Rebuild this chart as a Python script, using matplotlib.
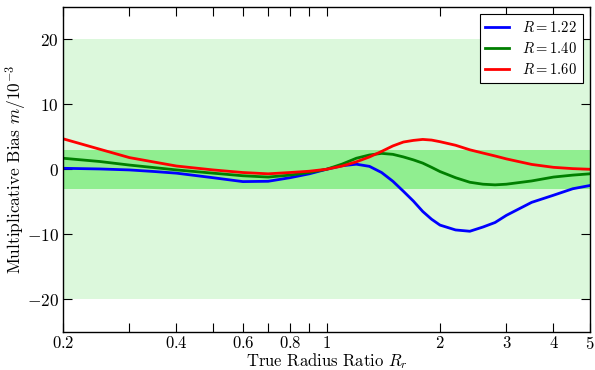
import matplotlib
matplotlib.use("Agg")
import matplotlib.pyplot as plt
from matplotlib.ticker import FixedLocator, FixedFormatter, NullLocator

plt.rcParams["font.family"] = "serif"
plt.rcParams["font.serif"] = ["cmr10", "DejaVu Serif"]
plt.rcParams["mathtext.fontset"] = "cm"
plt.rcParams["axes.unicode_minus"] = False

# True radius ratio samples
radius_ratio = [0.2, 0.25, 0.3, 0.35, 0.4, 0.5, 0.6, 0.7, 0.8, 0.9, 1.0,
                1.1, 1.2, 1.3, 1.4, 1.5, 1.6, 1.7, 1.8, 1.9, 2.0,
                2.2, 2.4, 2.6, 2.8, 3.0, 3.5, 4.0, 4.5, 5.0]

# Multiplicative bias (units of 1e-3) for each resolution factor R
bias_r122 = [0.15, 0.05, -0.1, -0.35, -0.6, -1.3, -1.9, -1.85, -1.3, -0.7, 0.0,
             0.55, 0.78, 0.45, -0.5, -1.85, -3.4, -4.9, -6.5, -7.7, -8.6,
             -9.35, -9.55, -8.9, -8.2, -7.1, -5.1, -4.0, -3.0, -2.5]
bias_r140 = [1.7, 1.2, 0.65, 0.25, -0.1, -0.6, -1.0, -1.2, -0.9, -0.5, 0.0,
             0.8, 1.7, 2.2, 2.45, 2.3, 1.9, 1.45, 0.95, 0.3, -0.35,
             -1.3, -2.0, -2.3, -2.4, -2.3, -1.8, -1.2, -0.9, -0.7]
bias_r160 = [4.7, 3.1, 1.8, 1.1, 0.5, -0.1, -0.5, -0.7, -0.5, -0.3, 0.0,
             0.5, 1.15, 1.9, 2.75, 3.6, 4.2, 4.45, 4.6, 4.5, 4.25,
             3.7, 3.0, 2.5, 2.05, 1.6, 0.75, 0.3, 0.1, 0.0]

series_labels = [r"$R = 1.22$", r"$R = 1.40$", r"$R = 1.60$"]
series_colors = ["#0000ff", "#007f00", "#ff0000"]

tick_positions = [0.2, 0.3, 0.4, 0.5, 0.6, 0.7, 0.8, 0.9, 1, 2, 3, 4, 5]
tick_labels = ["0.2", "", "0.4", "", "0.6", "", "0.8", "", "1", "2", "3", "4", "5"]
y_ticks = [-20, -10, 0, 10, 20]

fig = plt.figure(figsize=(5.95, 3.70), dpi=100)
ax = fig.add_axes([0.1059, 0.104, 0.8857, 0.877])

# Tolerance bands
ax.axhspan(-20, 20, color="#dcf8dc", zorder=0, lw=0)
ax.axhspan(-3, 3, color="#90ee90", zorder=0.5, lw=0)

for ys, lab, col in zip([bias_r122, bias_r140, bias_r160], series_labels, series_colors):
    ax.plot(radius_ratio, ys, color=col, lw=2.0, label=lab, zorder=2,
            solid_joinstyle="round")

ax.set_xscale("log")
ax.set_xlim(0.2, 5)
ax.set_ylim(-25, 25)
ax.xaxis.set_major_locator(FixedLocator(tick_positions))
ax.xaxis.set_major_formatter(FixedFormatter([f"${t}$" if t else "" for t in tick_labels]))
ax.xaxis.set_minor_locator(NullLocator())
ax.set_yticks(y_ticks)
ax.set_yticklabels([f"${v}$" if v >= 0 else f"$-{abs(v)}$" for v in y_ticks])
ax.tick_params(direction="in", length=6.5, width=0.8, top=True, right=True,
               labelsize=12.5)
ax.tick_params(axis="x", pad=2.5, labelsize=12)
ax.tick_params(axis="y", pad=3)
for sp in ax.spines.values():
    sp.set_linewidth(1.0)

ax.set_xlabel(r"True Radius Ratio $R_r$", fontsize=12, labelpad=-0.8)
ax.set_ylabel(r"Multiplicative Bias $m/10^{-3}$", fontsize=12.5, labelpad=-1.5)

leg = ax.legend(loc="upper right", fontsize=10.5, fancybox=False, framealpha=1,
                edgecolor="black", handlelength=1.6, handletextpad=0.9,
                borderaxespad=0.5, labelspacing=0.4)
leg.get_frame().set_linewidth(0.8)

fig.savefig("out.png", dpi=100)
